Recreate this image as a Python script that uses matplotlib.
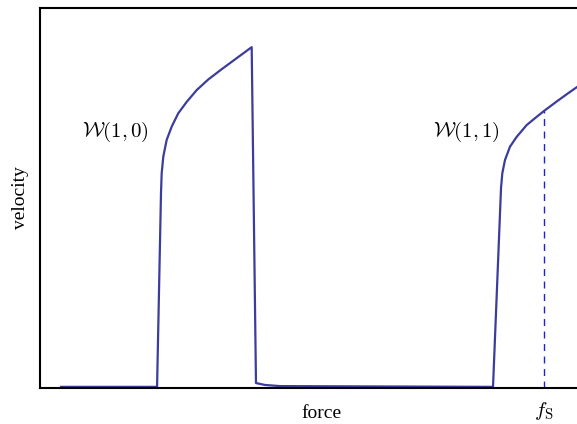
import matplotlib
matplotlib.use("Agg")
import matplotlib.pyplot as plt

plt.rcParams["font.family"] = ["Liberation Serif", "DejaVu Serif"]
plt.rcParams["mathtext.fontset"] = "cm"

# velocity curve (force, velocity)
force = [0.39, 2.18,
         2.253, 2.266, 2.296, 2.359, 2.453, 2.575, 2.732, 2.918, 3.134,
         3.384, 3.663, 3.942,
         4.022, 4.190, 4.469, 8.436,
         8.585, 8.609, 8.659, 8.752, 8.877, 9.063, 9.218, 9.385, 9.622,
         9.838, 10.0, 10.3]
velocity = [0.003, 0.003,
            0.512, 0.565, 0.609, 0.653, 0.688, 0.723, 0.753, 0.784, 0.812,
            0.839, 0.868, 0.897,
            0.013, 0.008, 0.005, 0.003,
            0.526, 0.565, 0.600, 0.635, 0.661, 0.692, 0.710, 0.729, 0.754,
            0.776, 0.792, 0.821]

f_s = 9.385
v_at_fs = 0.729

labels = [r"$\mathcal{W}(1,0)$", r"$\mathcal{W}(1,1)$"]
label_pos = [(1.4, 0.675), (7.95, 0.675)]

fig = plt.figure(figsize=(5.77, 4.24), dpi=100)
ax = fig.add_axes([40 / 577, 36 / 424, 550 / 577, 380 / 424])

ax.plot(force, velocity, color="#3c3c9c", lw=1.6)
ax.plot([f_s, f_s], [0, v_at_fs], color="#2020d0", lw=1.0, ls=(0, (5, 4)))

for txt, (x, y) in zip(labels, label_pos):
    ax.text(x, y, txt, fontsize=15, ha="center", va="center")

ax.set_xlim(0, 10.242)
ax.set_ylim(0, 1)
ax.set_xticks([f_s])
ax.set_xticklabels([r"$f_\mathrm{S}$"], fontsize=15)
ax.tick_params(axis="x", length=0, pad=9)
ax.set_yticks([])
ax.set_xlabel("force", fontsize=14, va="center")
ax.xaxis.set_label_coords(0.511, -0.066)
ax.set_ylabel("velocity", fontsize=14, labelpad=8)
for s in ax.spines.values():
    s.set_linewidth(1.5)

fig.savefig("out.png", dpi=100)
